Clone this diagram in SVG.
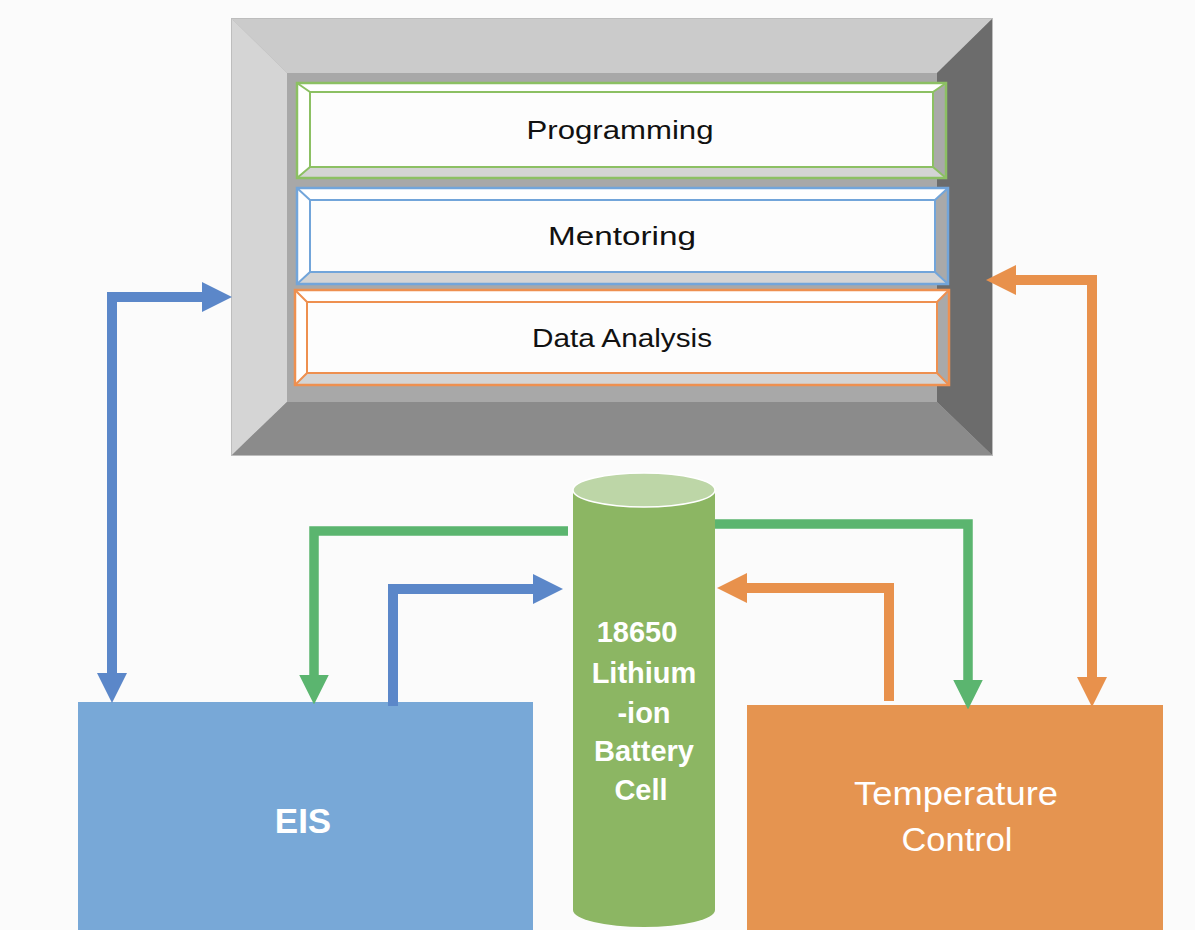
<svg xmlns="http://www.w3.org/2000/svg" width="1195" height="930" viewBox="0 0 1195 930">
<style>
.lbl{font-family:"Liberation Sans",Arial,sans-serif;fill:#111;font-size:25px}
.wt{font-family:"Liberation Sans",Arial,sans-serif;fill:#fff}
.conn{fill:none;stroke-linejoin:miter}
.face{fill:#fdfdfd}
.bvT{fill:#ffffff}
.bvB{fill:#d4d4d4}
.bvR{fill:#a9a9a9}
</style>
<defs>
<marker id="aB" viewBox="0 0 10 10" refX="0" refY="5" markerWidth="3" markerHeight="3.1" orient="auto-start-reverse" markerUnits="strokeWidth"><path d="M0 0 L10 5 L0 10 Z" fill="#5b87c9"/></marker>
<marker id="aG" viewBox="0 0 10 10" refX="0" refY="5" markerWidth="3.1" markerHeight="3.3" orient="auto-start-reverse" markerUnits="strokeWidth"><path d="M0 0 L10 5 L0 10 Z" fill="#5bb56f"/></marker>
<marker id="aO" viewBox="0 0 10 10" refX="0" refY="5" markerWidth="3" markerHeight="3.1" orient="auto-start-reverse" markerUnits="strokeWidth"><path d="M0 0 L10 5 L0 10 Z" fill="#e8914c"/></marker>
</defs>
<rect x="0" y="0" width="1195" height="930" fill="#fbfbfb"/>

<g id="frame">
<rect x="232" y="19" width="760" height="436" fill="#a6a6a6" stroke="#bdbdbd" stroke-width="2"/>
<polygon points="232,19 992,19 937,73 287,73" fill="#cbcbcb"/>
<polygon points="232,19 287,73 287,402 232,455" fill="#d5d5d5"/>
<polygon points="992,19 992,455 937,402 937,73" fill="#6c6c6c"/>
<polygon points="232,455 992,455 937,402 287,402" fill="#8b8b8b"/>
<rect x="287" y="73" width="650" height="329" fill="#a8a8a8"/>
</g>

<g id="programming">
<rect x="297" y="83" width="649" height="95" fill="#ffffff"/>
<polygon points="297,178 946,178 933,167 310,167" class="bvB"/>
<polygon points="946,83 946,178 933,167 933,92" class="bvR"/>
<rect x="310" y="92" width="623" height="75" class="face" stroke="#8cc063" stroke-width="2"/>
<rect x="297" y="83" width="649" height="95" fill="none" stroke="#8cc063" stroke-width="2.5"/>
<path d="M297 83 L310 92 M946 83 L933 92 M297 178 L310 167 M946 178 L933 167" stroke="#8cc063" stroke-width="2" fill="none"/>
<text class="lbl" x="620" y="139" text-anchor="middle" textLength="187" lengthAdjust="spacingAndGlyphs">Programming</text>
</g>

<g id="mentoring">
<rect x="297" y="188" width="651" height="96" fill="#ffffff"/>
<polygon points="297,284 948,284 935,272 310,272" class="bvB"/>
<polygon points="948,188 948,284 935,272 935,200" class="bvR"/>
<rect x="310" y="200" width="625" height="72" class="face" stroke="#72a5da" stroke-width="2"/>
<rect x="297" y="188" width="651" height="96" fill="none" stroke="#72a5da" stroke-width="2.5"/>
<path d="M297 188 L310 200 M948 188 L935 200 M297 284 L310 272 M948 284 L935 272" stroke="#72a5da" stroke-width="2" fill="none"/>
<text class="lbl" x="622" y="245" text-anchor="middle" textLength="148" lengthAdjust="spacingAndGlyphs">Mentoring</text>
</g>

<g id="data-analysis">
<rect x="295" y="290" width="654" height="95" fill="#ffffff"/>
<polygon points="295,385 949,385 937,373 307,373" class="bvB"/>
<polygon points="949,290 949,385 937,373 937,302" class="bvR"/>
<rect x="307" y="302" width="630" height="71" class="face" stroke="#ee9050" stroke-width="2"/>
<rect x="295" y="290" width="654" height="95" fill="none" stroke="#ee9050" stroke-width="2.5"/>
<path d="M295 290 L307 302 M949 290 L937 302 M295 385 L307 373 M949 385 L937 373" stroke="#ee9050" stroke-width="2" fill="none"/>
<text class="lbl" x="622" y="347" text-anchor="middle" textLength="180" lengthAdjust="spacingAndGlyphs">Data Analysis</text>
</g>

<g id="battery">
<path d="M573 490 V910 A71 17 0 0 0 715 910 V490 Z" fill="#8cb663"/>
<ellipse cx="644" cy="490" rx="71" ry="17" fill="#bdd6a7" stroke="#ffffff" stroke-width="1.5"/>
<g class="wt" font-size="29" font-weight="bold" text-anchor="middle">
<text x="637" y="642">18650</text>
<text x="644" y="683">Lithium</text>
<text x="644" y="723">-ion</text>
<text x="644" y="761">Battery</text>
<text x="641" y="800">Cell</text>
</g>
</g>

<g id="eis">
<rect x="78" y="702" width="455" height="228" fill="#78a8d7"/>
<text class="wt" x="303" y="833" font-size="35" font-weight="bold" text-anchor="middle">EIS</text>
</g>

<g id="temperature-control">
<rect x="747" y="705" width="416" height="225" fill="#e59450"/>
<text class="wt" x="956" y="805" font-size="33" text-anchor="middle" textLength="204" lengthAdjust="spacingAndGlyphs">Temperature</text>
<text class="wt" x="957" y="851" font-size="33" text-anchor="middle" textLength="111" lengthAdjust="spacingAndGlyphs">Control</text>
</g>

<g id="connectors">
<path class="conn" d="M112 673 V297 H202" stroke="#5b87c9" stroke-width="10" marker-start="url(#aB)" marker-end="url(#aB)"/>
<path class="conn" d="M393 706 V589 H533" stroke="#5b87c9" stroke-width="10" marker-end="url(#aB)"/>
<path class="conn" d="M568 531 H314 V675" stroke="#5bb56f" stroke-width="9.5" marker-end="url(#aG)"/>
<path class="conn" d="M715 524 H968 V680" stroke="#5bb56f" stroke-width="9.5" marker-end="url(#aG)"/>
<path class="conn" d="M889 701 V588 H747" stroke="#e8914c" stroke-width="10" marker-end="url(#aO)"/>
<path class="conn" d="M1092 677 V280 H1016" stroke="#e8914c" stroke-width="10" marker-start="url(#aO)" marker-end="url(#aO)"/>
</g>
</svg>
